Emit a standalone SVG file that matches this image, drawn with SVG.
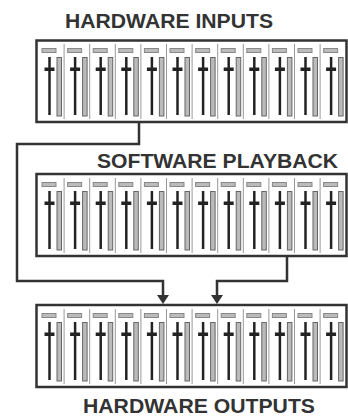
<svg xmlns="http://www.w3.org/2000/svg" xmlns:xlink="http://www.w3.org/1999/xlink" width="348" height="417" viewBox="0 0 348 417">
<style>
.title{font-family:"Liberation Sans",Arial,sans-serif;font-weight:bold;font-size:20.5px;fill:#333}
.box{fill:#fff;stroke:#333;stroke-width:2.5}
.div{stroke:#999;stroke-width:1}
.lbl{fill:#bbb;stroke:#888;stroke-width:1}
.fader{stroke:#222;stroke-width:2.5}
.cap{fill:#222}
.meter{fill:#bbb;stroke:#666;stroke-width:1}
.conn{fill:none;stroke:#333;stroke-width:2.5}
.head{fill:#333}
</style>
<defs>
<g id="strip">
<rect class="lbl" x="3.5" y="8.5" width="14" height="4"/>
<line class="fader" x1="11" y1="17" x2="11" y2="75"/>
<rect class="cap" x="6" y="27.5" width="10" height="3.5"/>
<rect class="meter" x="18.5" y="17.5" width="4.5" height="58.5"/>
</g>
<g id="rack">
<line class="div" x1="25.6" y1="4" x2="25.6" y2="79"/>
<line class="div" x1="51.2" y1="4" x2="51.2" y2="79"/>
<line class="div" x1="76.8" y1="4" x2="76.8" y2="79"/>
<line class="div" x1="102.4" y1="4" x2="102.4" y2="79"/>
<line class="div" x1="128" y1="4" x2="128" y2="79"/>
<line class="div" x1="153.6" y1="4" x2="153.6" y2="79"/>
<line class="div" x1="179.2" y1="4" x2="179.2" y2="79"/>
<line class="div" x1="204.8" y1="4" x2="204.8" y2="79"/>
<line class="div" x1="230.4" y1="4" x2="230.4" y2="79"/>
<line class="div" x1="256" y1="4" x2="256" y2="79"/>
<line class="div" x1="281.6" y1="4" x2="281.6" y2="79"/>
<use xlink:href="#strip" x="0"/>
<use xlink:href="#strip" x="25.6"/>
<use xlink:href="#strip" x="51.2"/>
<use xlink:href="#strip" x="76.8"/>
<use xlink:href="#strip" x="102.4"/>
<use xlink:href="#strip" x="128"/>
<use xlink:href="#strip" x="153.6"/>
<use xlink:href="#strip" x="179.2"/>
<use xlink:href="#strip" x="204.8"/>
<use xlink:href="#strip" x="230.4"/>
<use xlink:href="#strip" x="256"/>
<use xlink:href="#strip" x="281.6"/>
</g>
</defs>
<rect width="348" height="417" fill="#fff"/>
<g id="connectors">
<path class="conn" d="M139,122 V144 H17 V281 H163 V300"/>
<path class="conn" d="M287,256 V281 H217 V300"/>
<path class="head" d="M157,295 L169,295 L163,304 Z"/>
<path class="head" d="M211,295 L223,295 L217,304 Z"/>
</g>
<g id="hardware-inputs">
<rect class="box" x="36.5" y="40.5" width="310" height="81.5"/>
<use xlink:href="#rack" x="38.5" y="40"/>
<text class="title" x="65" y="28" textLength="208" lengthAdjust="spacingAndGlyphs">HARDWARE INPUTS</text>
</g>
<g id="software-playback">
<rect class="box" x="36.5" y="174" width="310" height="82"/>
<use xlink:href="#rack" x="38.5" y="174"/>
<text class="title" x="97" y="168" textLength="241" lengthAdjust="spacingAndGlyphs">SOFTWARE PLAYBACK</text>
</g>
<g id="hardware-outputs">
<rect class="box" x="36.5" y="305" width="310" height="82"/>
<use xlink:href="#rack" x="38.5" y="305"/>
<text class="title" x="83" y="413" textLength="232" lengthAdjust="spacingAndGlyphs">HARDWARE OUTPUTS</text>
</g>
</svg>
